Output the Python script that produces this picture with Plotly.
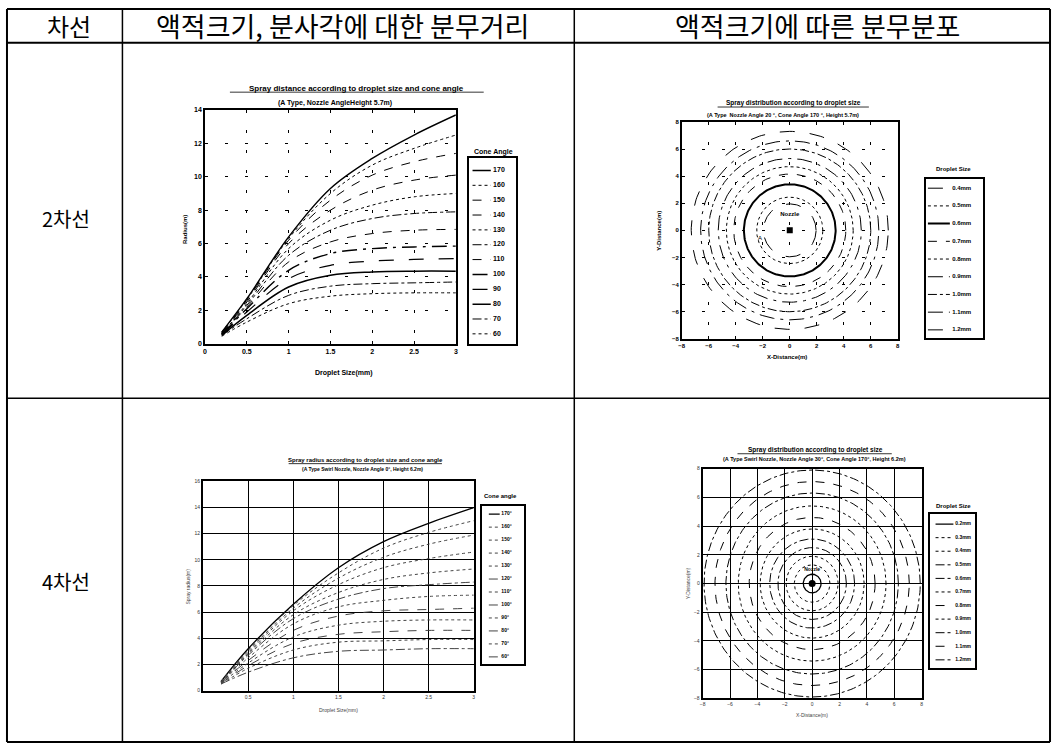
import numpy as np
import plotly.graph_objects as go

W, H = 1056, 747

# ---------------- data ----------------
header_labels = ["차선", "액적크기, 분사각에 대한 분무거리", "액적크기에 따른 분무분포"]
row_labels = ["2차선", "4차선"]

droplet_size_mm = [0.2, 0.5, 1.0, 1.5, 2.0, 2.5, 3.0]
cone_angles = [170, 160, 150, 140, 130, 120, 110, 100, 90, 80, 70, 60]

# spray radius (m) for 2-lane case (height 5.7 m), one row per cone angle
radius_2lane = [
    [0.70, 2.70, 6.40, 9.30, 11.10, 12.50, 13.70],
    [0.70, 2.65, 6.30, 9.00, 10.70, 11.70, 12.50],
    [0.65, 2.60, 6.20, 8.60, 10.10, 10.90, 11.40],
    [0.65, 2.50, 6.00, 8.00, 9.20, 9.80, 10.10],
    [0.60, 2.40, 5.70, 7.40, 8.30, 8.80, 9.00],
    [0.60, 2.30, 5.30, 6.80, 7.50, 7.80, 7.90],
    [0.60, 2.20, 4.90, 6.10, 6.60, 6.80, 6.85],
    [0.55, 2.10, 4.40, 5.40, 5.70, 5.80, 5.85],
    [0.55, 1.90, 3.90, 4.70, 4.95, 5.05, 5.10],
    [0.50, 1.70, 3.40, 4.10, 4.30, 4.35, 4.35],
    [0.50, 1.50, 2.90, 3.45, 3.60, 3.65, 3.70],
    [0.45, 1.30, 2.40, 2.85, 3.00, 3.05, 3.05],
]

# spray radius (m) for 4-lane case (height 6.2 m)
radius_4lane = [
    [0.70, 3.20, 6.60, 9.40, 11.40, 12.80, 14.00],
    [0.70, 3.10, 6.50, 9.00, 10.90, 12.10, 13.00],
    [0.70, 3.00, 6.30, 8.60, 10.20, 11.20, 11.90],
    [0.65, 2.90, 6.10, 8.10, 9.40, 10.10, 10.60],
    [0.65, 2.80, 5.80, 7.50, 8.50, 9.00, 9.30],
    [0.60, 2.70, 5.50, 7.00, 7.80, 8.10, 8.30],
    [0.60, 2.50, 5.10, 6.40, 6.90, 7.20, 7.30],
    [0.60, 2.30, 4.60, 5.70, 6.10, 6.20, 6.30],
    [0.55, 2.10, 4.10, 5.00, 5.30, 5.40, 5.40],
    [0.55, 1.90, 3.60, 4.30, 4.50, 4.60, 4.60],
    [0.50, 1.70, 3.10, 3.70, 3.80, 3.90, 3.90],
    [0.50, 1.40, 2.50, 3.00, 3.10, 3.20, 3.20],
]

droplet_labels_2lane = ["0.4mm", "0.5mm", "0.6mm", "0.7mm", "0.8mm", "0.9mm", "1.0mm", "1.1mm", "1.2mm"]
spread_radius_2lane = [1.95, 2.45, 3.40, 4.15, 4.70, 5.30, 6.00, 6.60, 7.30]

droplet_labels_4lane = ["0.2mm", "0.3mm", "0.4mm", "0.5mm", "0.6mm", "0.7mm", "0.8mm",
                        "0.9mm", "1.0mm", "1.1mm", "1.2mm"]
spread_radius_4lane = [0.65, 1.30, 1.90, 2.50, 3.10, 3.80, 4.60, 5.40, 6.30, 7.10, 7.90]

# ---------------- styles ----------------
FONT = "Liberation Sans"
KFONT = "Noto Sans CJK KR"

dash_c1 = ["solid", "dot", "dash", "dash", "dot", "dashdot", "dash", "longdashdot", "longdash", "solid", "dashdot", "dot"]
width_c1 = [1.4, 1, 1, 1, 1, 1, 1, 1.4, 1.2, 1.5, 1, 1]
dash_c2 = ["longdash", "dot", "solid", "dash", "dot", "longdashdot", "dashdot", "longdashdot", "longdash"]
width_c2 = [1, 1, 2, 1, 1, 1, 1, 1, 1]
dash_c3 = ["solid", "dot", "dot", "dot", "dot", "dashdot", "dot", "dash", "dot", "dash", "dot", "dashdot"]
width_c3 = [1.3, 1, 1, 1, 1, 1, 1, 1, 1, 1, 1, 1]
color_c3 = ["black"] + ["#444"] * 11
dash_c4 = ["solid", "dot", "dot", "dashdot", "dashdot", "dot", "dash", "dot", "dashdot", "dash", "dashdot"]
width_c4 = [1.3] + [1] * 10


def fx(p):
    return p / W


def fy(p):
    return 1 - p / H


fig = go.Figure()

# ---------------- chart 1 ----------------
for i, ang in enumerate(cone_angles):
    fig.add_trace(go.Scatter(x=droplet_size_mm, y=radius_2lane[i], mode="lines", line_shape="spline",
                             line=dict(color="black", width=width_c1[i], dash=dash_c1[i]),
                             xaxis="x", yaxis="y", showlegend=False, hoverinfo="skip"))

# ---------------- chart 2 ----------------
theta = np.linspace(0, 2 * np.pi, 241)
for i, r in enumerate(spread_radius_2lane):
    fig.add_trace(go.Scatter(x=r * np.cos(theta), y=r * np.sin(theta), mode="lines",
                             line=dict(color="black", width=width_c2[i], dash=dash_c2[i]),
                             xaxis="x2", yaxis="y2", showlegend=False, hoverinfo="skip"))
fig.add_trace(go.Scatter(x=[0], y=[0], mode="markers", marker=dict(symbol="square", size=6, color="black"),
                         xaxis="x2", yaxis="y2", showlegend=False, hoverinfo="skip"))
fig.add_trace(go.Scatter(x=[0, -2.2], y=[1.2, -0.6], mode="text", text=["<b>Nozzle</b>", "A"],
                         textfont=dict(size=6, family=FONT, color="black"),
                         xaxis="x2", yaxis="y2", showlegend=False, hoverinfo="skip"))

# ---------------- chart 3 ----------------
for i, ang in enumerate(cone_angles):
    fig.add_trace(go.Scatter(x=droplet_size_mm, y=radius_4lane[i], mode="lines", line_shape="spline",
                             line=dict(color=color_c3[i], width=width_c3[i], dash=dash_c3[i]),
                             xaxis="x3", yaxis="y3", showlegend=False, hoverinfo="skip"))

# ---------------- chart 4 ----------------
for i, r in enumerate(spread_radius_4lane):
    fig.add_trace(go.Scatter(x=r * np.cos(theta), y=r * np.sin(theta), mode="lines",
                             line=dict(color="black", width=width_c4[i], dash=dash_c4[i]),
                             xaxis="x4", yaxis="y4", showlegend=False, hoverinfo="skip"))
fig.add_trace(go.Scatter(x=[0], y=[0], mode="markers", marker=dict(symbol="circle", size=7, color="black"),
                         xaxis="x4", yaxis="y4", showlegend=False, hoverinfo="skip"))
fig.add_trace(go.Scatter(x=[0], y=[0.95], mode="text", text=["<b>Nozzle</b>"],
                         textfont=dict(size=5, family=FONT, color="black"),
                         xaxis="x4", yaxis="y4", showlegend=False, hoverinfo="skip"))


# ---------------- legends as small boxed axes ----------------
def add_legend(axn, labels, dashes, widths, colors, lx0, lx1, tx, fsize):
    n = len(labels)
    for i in range(n):
        fig.add_trace(go.Scatter(x=[lx0, lx1], y=[i, i], mode="lines",
                                 line=dict(color=colors[i], width=widths[i], dash=dashes[i]),
                                 xaxis="x%d" % axn, yaxis="y%d" % axn, showlegend=False, hoverinfo="skip"))
    fig.add_trace(go.Scatter(x=[tx] * n, y=list(range(n)), mode="text",
                             text=["<b>%s</b>" % s for s in labels], textposition="middle right",
                             textfont=dict(size=fsize, family=FONT, color="black"),
                             xaxis="x%d" % axn, yaxis="y%d" % axn, showlegend=False, hoverinfo="skip"))


add_legend(5, [str(a) for a in cone_angles], dash_c1, width_c1, ["black"] * 12, 0.08, 0.47, 0.52, 7)
add_legend(6, droplet_labels_2lane, dash_c2, width_c2, ["black"] * 9, 0.04, 0.42, 0.46, 6)
add_legend(7, [str(a) + "°" for a in cone_angles], dash_c3, width_c3, color_c3, 0.17, 0.43, 0.47, 5)
add_legend(8, droplet_labels_4lane, dash_c4, width_c4, ["black"] * 11, 0.13, 0.52, 0.56, 5)

tickfont = dict(size=7, family=FONT, color="black", weight="bold")


def ax(n, box_x, rng, **kw):
    d = dict(domain=[fx(box_x[0]), fx(box_x[1])], range=rng, anchor="y" if n == 1 else "y%d" % n,
             showline=True, linecolor="black", linewidth=1.5,
             mirror=True, ticks="inside", ticklen=3, tickcolor="black", tickfont=tickfont, zeroline=False,
             showgrid=True, gridcolor="black", gridwidth=1, fixedrange=True)
    d.update(kw)
    return d


def ay(n, box_y, rng, **kw):
    d = dict(domain=[fy(box_y[1]), fy(box_y[0])], range=rng, anchor="x" if n == 1 else "x%d" % n,
             showline=True, linecolor="black", linewidth=1.5,
             mirror=True, ticks="inside", ticklen=3, tickcolor="black", tickfont=tickfont, zeroline=False,
             showgrid=True, gridcolor="black", gridwidth=1, fixedrange=True)
    d.update(kw)
    return d


def legax(n, box, cnt, pt, pb):
    x0, x1, y0, y1 = box
    xa = dict(domain=[fx(x0), fx(x1)], range=[0, 1], anchor="y%d" % n, showline=True, mirror=True,
              linecolor="black", linewidth=2,
              showticklabels=False, ticks="", showgrid=False, zeroline=False, fixedrange=True)
    ya = dict(domain=[fy(y1), fy(y0)], range=[cnt - 1 + pb, -pt], anchor="x%d" % n, showline=True, mirror=True,
              linecolor="black", linewidth=2, showticklabels=False, ticks="", showgrid=False, zeroline=False,
              fixedrange=True)
    return xa, ya


sparse = "3px,17px"
l5x, l5y = legax(5, (468, 515, 155, 343), 12, 0.87, 0.67)
l6x, l6y = legax(6, (927, 985, 177, 337), 9, 0.5, 0.45)
l7x, l7y = legax(7, (481, 523, 507, 666), 12, 0.61, 0.53)
l8x, l8y = legax(8, (931, 977, 515, 670), 11, 0.73, 0.58)

small = dict(size=5, family=FONT, color="#333")
tick6 = dict(size=6, family=FONT, color="black", weight="bold")
fig.update_layout(
    width=W, height=H, margin=dict(l=0, r=0, t=0, b=0),
    paper_bgcolor="white", plot_bgcolor="white", showlegend=False,
    xaxis=ax(1, (203, 455), [0, 3], dtick=0.5, griddash=sparse),
    yaxis=ay(1, (107, 343), [0, 14], dtick=2, griddash=sparse),
    xaxis2=ax(2, (682, 899), [-8, 8], dtick=2, griddash=sparse, tickfont=tick6),
    yaxis2=ay(2, (119, 338), [-8, 8], dtick=2, griddash=sparse, tickfont=tick6),
    xaxis3=ax(3, (201, 473), [0, 3], dtick=0.5, linewidth=2, gridwidth=1.3, ticks="",
              tickvals=[0.5, 1, 1.5, 2, 2.5, 3], tickfont=small),
    yaxis3=ay(3, (482, 693), [0, 16], dtick=2, linewidth=2, gridwidth=1.3, ticks="", tickfont=small),
    xaxis4=ax(4, (703, 923), [-8, 8], dtick=2, linewidth=2, gridwidth=1.3, ticks="", tickfont=small),
    yaxis4=ay(4, (469, 701), [-8, 8], dtick=2, linewidth=2, gridwidth=1.3, ticks="", tickfont=small),
    xaxis5=l5x, yaxis5=l5y, xaxis6=l6x, yaxis6=l6y,
    xaxis7=l7x, yaxis7=l7y, xaxis8=l8x, yaxis8=l8y,
)

# ---------------- table lines ----------------
table_lines = [
    (4, 5, 1052, 5, 2), (4, 39, 1052, 39, 2), (4, 398, 1052, 398, 1.5), (4, 745, 1052, 745, 2),
    (4, 5, 4, 745, 2), (120, 5, 120, 745, 1.5), (574, 5, 574, 745, 1.5), (1052, 5, 1052, 745, 2),
]
for x0, y0, x1, y1, w in table_lines:
    fig.add_shape(type="line", xref="paper", yref="paper", x0=fx(x0), y0=fy(y0), x1=fx(x1), y1=fy(y1),
                  line=dict(color="black", width=w))


def text(x, y, s, size, family=FONT, bold=False, angle=0, color="black"):
    fig.add_annotation(xref="paper", yref="paper", x=fx(x), y=fy(y), text=("<b>%s</b>" % s) if bold else s,
                       showarrow=False, font=dict(size=size, family=family, color=color), textangle=angle,
                       xanchor="center", yanchor="middle")


def underline(x0, x1, y, w=0.8):
    fig.add_shape(type="line", xref="paper", yref="paper", x0=fx(x0), x1=fx(x1), y0=fy(y), y1=fy(y),
                  line=dict(color="black", width=w))


# header & row labels
text(66, 22, header_labels[0], 24, KFONT)
text(341, 22, header_labels[1], 27, KFONT)
text(818, 22, header_labels[2], 27, KFONT)
text(63, 217, row_labels[0], 20, KFONT)
text(63, 583, row_labels[1], 20, KFONT)

# chart 1 texts
text(355, 85, "Spray distance according to droplet size and cone angle", 8, bold=True)
underline(228, 483, 89)
text(334, 100, "(A Type, Nozzle AngleHeight 5.7m)", 7, bold=True)
text(343, 372, "Droplet Size(mm)", 7, bold=True)
text(183, 228, "Radius(m)", 6, bold=True, angle=-90)
text(493, 149, "Cone Angle", 7, bold=True)

# chart 2 texts
text(794, 100, "Spray distribution according to droplet size", 6.5, bold=True)
underline(718, 870, 104)
text(784, 112, "(A Type  Nozzle Angle 20 °, Cone Angle 170 °, Height 5.7m)", 5.5, bold=True)
text(788, 356, "X-Distance(m)", 6, bold=True)
text(659, 229, "Y-Distance(m)", 6, bold=True, angle=-90)
text(955, 167, "Droplet Size", 6, bold=True)

# chart 3 texts
text(364, 460, "Spray radius according to droplet size and cone angle", 6, bold=True)
underline(287, 441, 464)
text(361, 469, "(A Type Swirl Nozzle, Nozzle Angle 0°, Height 6.2m)", 5, bold=True)
text(337, 713, "Droplet Size(mm)", 5, color="#444")
text(186, 588, "Spray radius(m)", 5, angle=-90, color="#444")
text(500, 497, "Cone angle", 6, bold=True)

# chart 4 texts
text(816, 450, "Spray distribution according to droplet size", 6.5, bold=True)
underline(738, 893, 454)
text(815, 459, "(A Type Swirl Nozzle, Nozzle Angle 30°, Cone Angle 170°, Height 6.2m)", 5.5, bold=True)
text(813, 718, "X-Distance(m)", 5, color="#444")
text(688, 585, "Y-Distance(m)", 5, angle=-90, color="#444")
text(955, 507, "Droplet Size", 6, bold=True)

fig.write_html("out.html", config={"displayModeBar": False},
               post_script="document.body.style.margin='0';document.body.style.overflow='hidden';")
